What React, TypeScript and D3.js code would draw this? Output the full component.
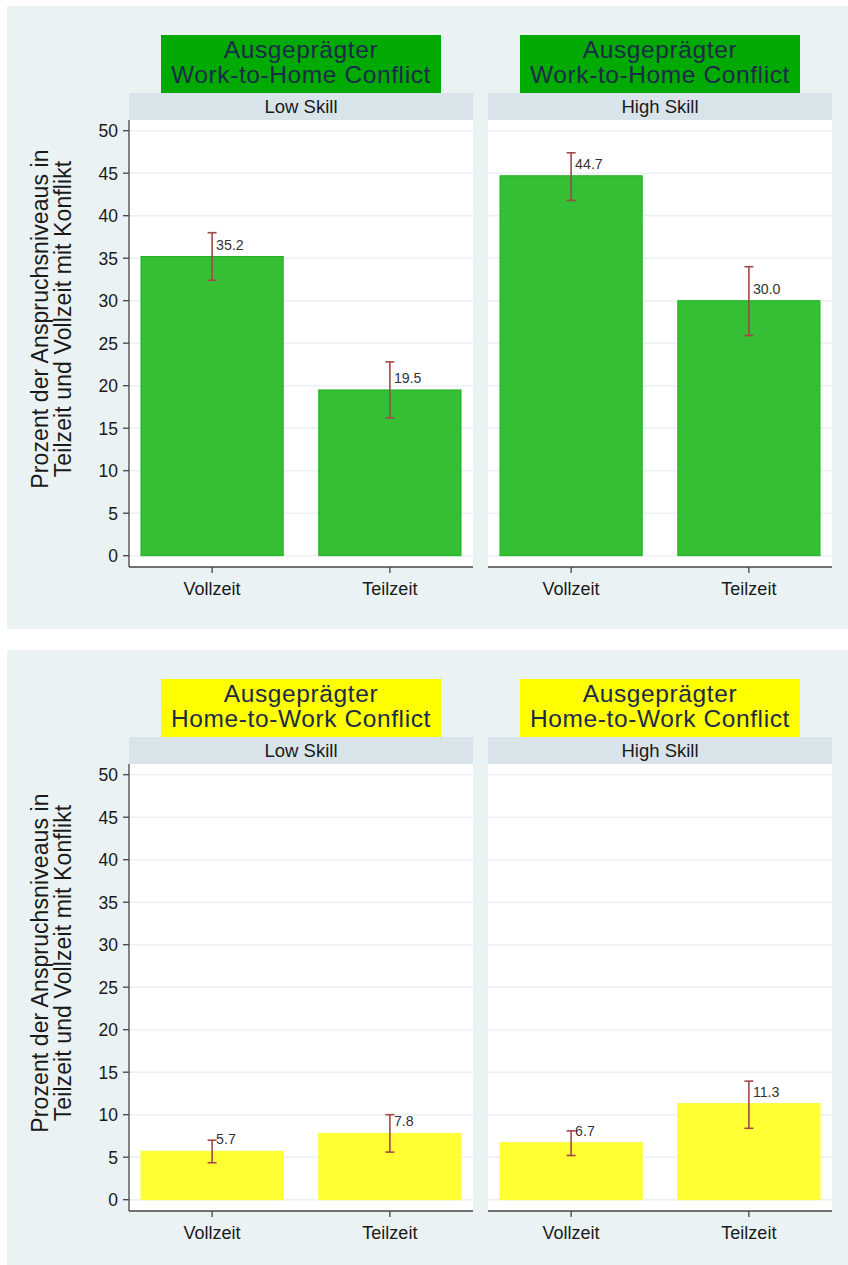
import React from "react";
import * as d3 from "d3";

const conflicts = ["Work-to-Home Conflict", "Home-to-Work Conflict"];
const titleTop = "Ausgeprägter";
const skills = ["Low Skill", "High Skill"];
const categories = ["Vollzeit", "Teilzeit"];
const yTicks = [0, 5, 10, 15, 20, 25, 30, 35, 40, 45, 50];
const yTitle1 = "Prozent der Anspruchsniveaus in";
const yTitle2 = "Teilzeit und Vollzeit mit Konflikt";

// Work-to-Home: [Low Skill, High Skill] x [Vollzeit, Teilzeit]
const wthValues = [[35.2, 19.5], [44.7, 30.0]];
const wthLower = [[32.4, 16.2], [41.8, 25.9]];
const wthUpper = [[38.0, 22.8], [47.4, 34.0]];
// Home-to-Work
const htwValues = [[5.7, 7.8], [6.7, 11.3]];
const htwLower = [[4.35, 5.6], [5.2, 8.4]];
const htwUpper = [[7.0, 10.0], [8.1, 13.95]];

const W = 848;
const H = 1265;
const FONT = "'Liberation Sans', Arial, Helvetica, sans-serif";

const rows = [
  { top: 6, bottom: 629, title: conflicts[0], box: "#00AA00", bar: "#34BF34", barStroke: "#22B022", values: wthValues, lower: wthLower, upper: wthUpper },
  { top: 650, bottom: 1265, title: conflicts[1], box: "#FFFF00", bar: "#FFFF33", barStroke: "#FFFF33", values: htwValues, lower: htwLower, upper: htwUpper },
];

const panelsX = [
  { x0: 129, x1: 473 },
  { x0: 488, x1: 832 },
];

const ERR = "#A4474A";

function Panel({ row, pi }: { row: any; pi: number }) {
  const { x0, x1 } = panelsX[pi];
  const t = row.top;
  const y = d3.scaleLinear().domain([0, 50]).range([t + 549.7, t + 124.7]);
  const x = d3.scaleBand().domain(categories).range([x0 + 12, x1 - 12]).paddingInner(0.2).paddingOuter(0);
  const cx = (x0 + x1) / 2;
  const plotTop = t + 114;
  const plotBottom = t + 561;
  const vals = row.values[pi];
  const lo = row.lower[pi];
  const hi = row.upper[pi];
  return (
    <g>
      {/* title box */}
      <rect x={cx - 140} y={t + 29} width={280} height={58} fill={row.box} />
      <text x={cx} y={t + 52} textAnchor="middle" fontSize={24.5} letterSpacing={0.6} fill="#1C2B4A" fontFamily={FONT}>{titleTop}</text>
      <text x={cx} y={t + 77} textAnchor="middle" fontSize={24.5} letterSpacing={0.6} fill="#1C2B4A" fontFamily={FONT}>{row.title}</text>
      {/* strip */}
      <rect x={x0} y={t + 87} width={x1 - x0} height={27} fill="#D9E4EA" />
      <text x={cx} y={t + 107} textAnchor="middle" fontSize={18.5} fill="#1a1a1a" fontFamily={FONT}>{skills[pi]}</text>
      {/* plot area */}
      <rect x={x0} y={plotTop} width={x1 - x0} height={plotBottom - plotTop} fill="#FFFFFF" />
      {yTicks.map((v) => (
        <line key={v} x1={x0} x2={x1} y1={y(v)} y2={y(v)} stroke="#EAF2F3" strokeWidth={1.6} />
      ))}
      {/* bars */}
      {categories.map((c, i) => (
        <rect key={c} x={x(c)!} y={y(vals[i])} width={x.bandwidth()} height={y(0) - y(vals[i])} fill={row.bar} stroke={row.barStroke} strokeWidth={1} />
      ))}
      {/* error bars */}
      {categories.map((c, i) => {
        const mx = x(c)! + x.bandwidth() / 2;
        return (
          <g key={c} stroke={ERR} strokeWidth={1.6}>
            <line x1={mx} x2={mx} y1={y(lo[i])} y2={y(hi[i])} />
            <line x1={mx - 4.5} x2={mx + 4.5} y1={y(lo[i])} y2={y(lo[i])} />
            <line x1={mx - 4.5} x2={mx + 4.5} y1={y(hi[i])} y2={y(hi[i])} />
          </g>
        );
      })}
      {/* value labels */}
      {categories.map((c, i) => {
        const mx = x(c)! + x.bandwidth() / 2;
        return (
          <text key={c} x={mx + 4} y={y(vals[i]) - 7} fontSize={14.2} fill="#333" fontFamily={FONT}>
            {d3.format(".1f")(vals[i])}
          </text>
        );
      })}
      {/* x axis */}
      <line x1={x0} x2={x1} y1={plotBottom} y2={plotBottom} stroke="#444" strokeWidth={1.3} />
      {categories.map((c) => {
        const mx = x(c)! + x.bandwidth() / 2;
        return (
          <g key={c}>
            <line x1={mx} x2={mx} y1={plotBottom} y2={plotBottom + 6} stroke="#444" strokeWidth={1.3} />
            <text x={mx} y={t + 589} textAnchor="middle" fontSize={18} fill="#1a1a1a" fontFamily={FONT}>{c}</text>
          </g>
        );
      })}
      {/* y axis on left panel only */}
      {pi === 0 && (
        <g>
          <line x1={x0} x2={x0} y1={plotTop} y2={plotBottom} stroke="#444" strokeWidth={1.3} />
          {yTicks.map((v) => (
            <g key={v}>
              <line x1={x0 - 6} x2={x0} y1={y(v)} y2={y(v)} stroke="#444" strokeWidth={1.3} />
              <text x={x0 - 11} y={y(v)} dy="0.36em" textAnchor="end" fontSize={17.5} fill="#1a1a1a" fontFamily={FONT}>{v}</text>
            </g>
          ))}
          <g transform={`translate(0, ${t + 313}) rotate(-90)`}>
            <text x={0} y={48} textAnchor="middle" fontSize={23} letterSpacing={0.1} fill="#1a1a1a" fontFamily={FONT}>{yTitle1}</text>
            <text x={0} y={71} textAnchor="middle" fontSize={23} letterSpacing={0.1} fill="#1a1a1a" fontFamily={FONT}>{yTitle2}</text>
          </g>
        </g>
      )}
    </g>
  );
}

export default function App() {
  return (
    <div style={{ position: "absolute", left: 0, top: 0 }}>
      <svg width={W} height={H} style={{ display: "block" }}>
        <rect x={0} y={0} width={W} height={H} fill="#FFFFFF" />
        {rows.map((row, ri) => (
          <g key={ri}>
            <rect x={7} y={row.top} width={W - 7} height={row.bottom - row.top} fill="#EAF2F3" />
            {[0, 1].map((pi) => (
              <Panel key={pi} row={row} pi={pi} />
            ))}
          </g>
        ))}
      </svg>
    </div>
  );
}
